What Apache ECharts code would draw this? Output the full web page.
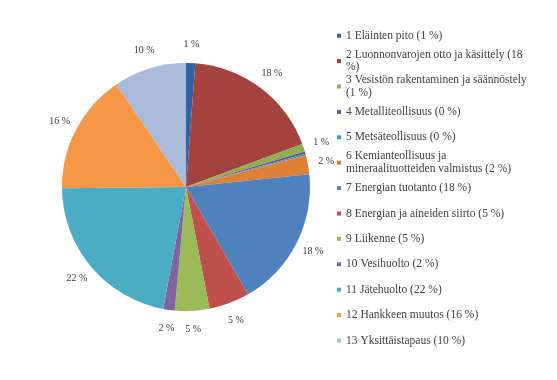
<!DOCTYPE html>
<html>
<head>
<meta charset="utf-8">
<script src="https://cdn.jsdelivr.net/npm/echarts@6/dist/echarts.min.js"></script>
<style>html,body{margin:0;padding:0;background:#fff;}#c{width:557px;height:380px;}</style>
</head>
<body>
<div id="c"></div>
<script>
var categories = [
  '1 Eläinten pito (1 %)',
  '2 Luonnonvarojen otto ja käsittely (18 %)',
  '3 Vesistön rakentaminen ja säännöstely (1 %)',
  '4 Metalliteollisuus (0 %)',
  '5 Metsäteollisuus (0 %)',
  '6 Kemianteollisuus ja mineraalituotteiden valmistus (2 %)',
  '7 Energian tuotanto (18 %)',
  '8 Energian ja aineiden siirto (5 %)',
  '9 Liikenne (5 %)',
  '10 Vesihuolto (2 %)',
  '11 Jätehuolto (22 %)',
  '12 Hankkeen muutos (16 %)',
  '13 Yksittäistapaus (10 %)'
];
var legendLabels = [
  '1 Eläinten pito (1 %)',
  '2 Luonnonvarojen otto ja käsittely (18\n%)',
  '3 Vesistön rakentaminen ja säännöstely\n(1 %)',
  '4 Metalliteollisuus (0 %)',
  '5 Metsäteollisuus (0 %)',
  '6 Kemianteollisuus ja\nmineraalituotteiden valmistus (2 %)',
  '7 Energian tuotanto (18 %)',
  '8 Energian ja aineiden siirto (5 %)',
  '9 Liikenne (5 %)',
  '10 Vesihuolto (2 %)',
  '11 Jätehuolto (22 %)',
  '12 Hankkeen muutos (16 %)',
  '13 Yksittäistapaus (10 %)'
];
var values = [1.2, 18.2, 1.0, 0.3, 0.2, 2.5, 18.3, 5.3, 4.5, 1.5, 21.9, 15.7, 9.5];
var sliceLabels = ['1 %', '18 %', '1 %', '', '', '2 %', '18 %', '5 %', '5 %', '2 %', '22 %', '16 %', '10 %'];
var colors = ['#2F62A6', '#A3433F', '#8EB04F', '#6A4F92', '#3A9DB8', '#DE8036',
              '#4F81BD', '#C0504D', '#9BBB59', '#8064A2', '#4BACC6', '#F79646', '#A9BBD9'];

var chart = echarts.init(document.getElementById('c'));
var pieData = categories.map(function (n, i) {
  return { name: n, value: values[i], itemStyle: { color: colors[i] } };
});
var labelData = categories.map(function (n, i) {
  var d = { name: n, value: values[i] };
  if (!sliceLabels[i]) d.label = { show: false };
  return d;
});
chart.setOption({
  animation: false,
  backgroundColor: '#ffffff',
  legend: {
    orient: 'vertical',
    left: 337,
    top: 23,
    padding: 0,
    itemWidth: 4,
    itemHeight: 4,
    itemGap: 0,
    icon: 'rect',
    data: categories,
    formatter: function (name) { return legendLabels[categories.indexOf(name)]; },
    textStyle: {
      fontFamily: 'Liberation Serif',
      fontSize: 11.5,
      color: '#404040',
      lineHeight: 12.5,
      height: 18.9,
      padding: [6.5, 0, 0, 0]
    }
  },
  series: [{
    type: 'pie',
    center: [186, 187],
    radius: 124,
    startAngle: 90,
    clockwise: true,
    data: pieData,
    label: { show: false },
    labelLine: { show: false },
    emphasis: { disabled: true }
  }, {
    type: 'pie',
    center: [186, 187],
    radius: [124, 155],
    startAngle: 90,
    clockwise: true,
    silent: true,
    avoidLabelOverlap: false,
    data: labelData,
    itemStyle: { color: 'rgba(0,0,0,0)' },
    label: {
      show: true,
      position: 'inside',
      formatter: function (p) { return sliceLabels[p.dataIndex]; },
      fontFamily: 'Liberation Serif',
      fontSize: 10,
      color: '#3a3a3a'
    },
    labelLine: { show: false },
    emphasis: { disabled: true }
  }]
});
</script>
</body>
</html>
